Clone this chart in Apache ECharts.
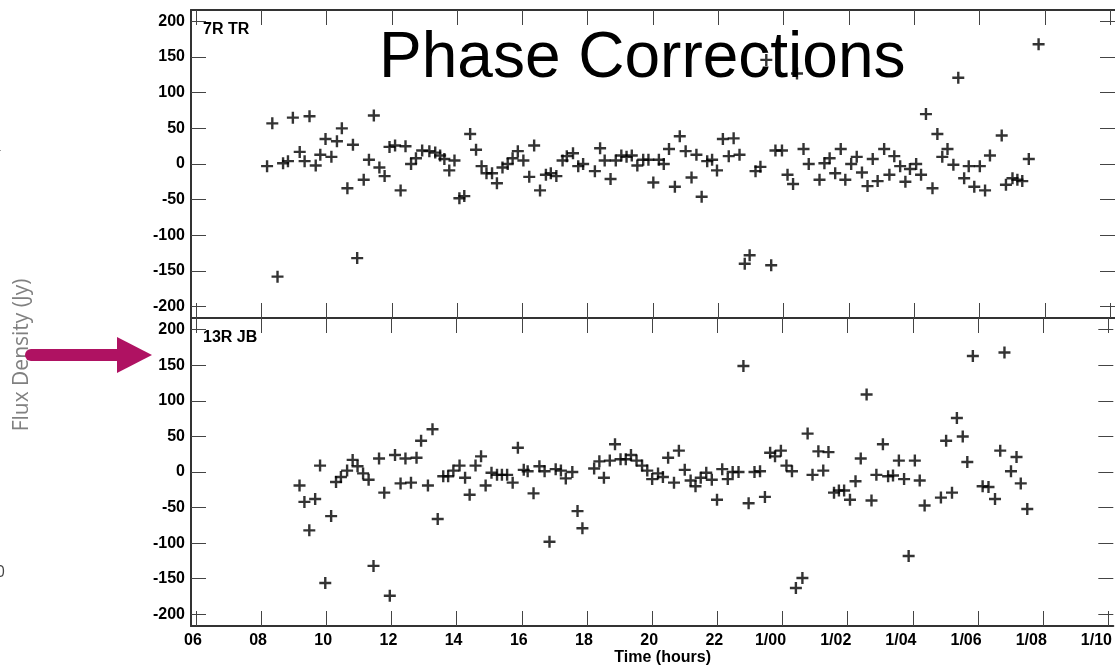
<!DOCTYPE html>
<html>
<head>
<meta charset="utf-8">
<script src="https://cdn.jsdelivr.net/npm/echarts@6/dist/echarts.min.js"></script>
<style>
  html, body { margin: 0; padding: 0; background: #fff; }
  #chart { width: 1115px; height: 667px; }
</style>
</head>
<body>
<div id="chart"></div>
<script>
// Tick positions and labels (hours from 06 to 1/10 of the next day)
const hourTicks = [6, 8, 10, 12, 14, 16, 18, 20, 22, 24, 26, 28, 30, 32, 34];
const hourTickLabels = ['06', '08', '10', '12', '14', '16', '18', '20', '22', '1/00', '1/02', '1/04', '1/06', '1/08', '1/10'];
const fluxTicks = [-200, -150, -100, -50, 0, 50, 100, 150, 200];

// Baseline 7R TR
const tr7Hours = [8.18, 8.34, 8.50, 8.67, 8.82, 8.97, 9.18, 9.33, 9.48, 9.67, 9.81, 9.97, 10.15, 10.32, 10.47, 10.64, 10.81, 10.94,
  11.14, 11.30, 11.45, 11.62, 11.78, 11.93, 12.10, 12.27, 12.42, 12.59, 12.74, 12.93, 13.15, 13.33, 13.48, 13.61, 13.76, 13.92,
  14.07, 14.22, 14.40, 14.58, 14.75, 14.90, 15.07, 15.22, 15.39, 15.55, 15.70, 15.86, 16.03, 16.21, 16.36, 16.54, 16.72, 16.87,
  17.04, 17.23, 17.36, 17.55, 17.71, 17.86, 18.22, 18.38, 18.52, 18.70, 18.86, 19.03, 19.19, 19.35, 19.52, 19.70, 19.86, 20.01,
  20.18, 20.33, 20.49, 20.67, 20.82, 21.00, 21.18, 21.33, 21.49, 21.66, 21.81, 21.96, 22.14, 22.32, 22.47, 22.65, 22.81, 22.96,
  23.14, 23.29, 23.47, 23.62, 23.75, 23.95, 24.12, 24.29, 24.41, 24.61, 24.77, 25.10, 25.25, 25.41, 25.58, 25.75, 25.89, 26.07,
  26.24, 26.40, 26.57, 26.73, 26.88, 27.08, 27.24, 27.39, 27.57, 27.73, 27.87, 28.06, 28.21, 28.36, 28.56, 28.71, 28.86, 29.02,
  29.20, 29.35, 29.53, 29.67, 29.84, 30.01, 30.17, 30.32, 30.68, 30.81, 31.01, 31.16, 31.31, 31.51, 31.81];
const tr7Flux = [-3, 57, -158, 1, 4, 65, 17, 4, 67, -2, 13, 35, 10, 32, 50, -34, 27, -132,
  -22, 6, 68, -5, -17, 24, 26, -37, 25, 0, 8, 19, 18, 16, 12, 7, -9, 5,
  -48, -45, 42, 20, -3, -13, -13, -27, -5, 0, 8, 18, 5, -18, 26, -37, -15, -13,
  -17, 5, 11, 15, -3, 0, -10, 22, 5, -21, 5, 12, 10, 12, -2, 6, 6, -26,
  6, 0, 21, -32, 39, 18, -19, 13, -46, 4, 6, -9, 35, 11, 36, 13, -140, -128,
  -10, -4, 146, -142, 19, 19, -15, -28, 127, 21, 0, -22, 1, 8, -13, 21, -22, 0,
  10, -12, -31, 7, -24, 21, -15, 11, -3, -25, -7, 0, -15, 70, -34, 42, 10, 21,
  -1, 121, -20, -3, -32, -3, -37, 12, 40, -29, -20, -22, -24, 7, 168];

// Baseline 13R JB
const jb13Hours = [9.18, 9.33, 9.48, 9.66, 9.81, 9.97, 10.15, 10.30, 10.45, 10.64, 10.81, 10.96, 11.13, 11.30, 11.45, 11.62, 11.78,
  11.95, 12.11, 12.28, 12.43, 12.60, 12.77, 12.91, 13.12, 13.26, 13.42, 13.59, 13.74, 13.90, 14.09, 14.26, 14.40, 14.58, 14.75,
  14.89, 15.07, 15.24, 15.39, 15.55, 15.72, 15.88, 16.06, 16.18, 16.36, 16.54, 16.70, 16.85, 17.04, 17.20, 17.35, 17.55, 17.71,
  17.86, 18.22, 18.38, 18.52, 18.70, 18.86, 19.03, 19.19, 19.35, 19.52, 19.69, 19.85, 20.00, 20.18, 20.33, 20.49, 20.67, 20.82,
  21.00, 21.18, 21.33, 21.49, 21.66, 21.83, 21.99, 22.15, 22.32, 22.47, 22.65, 22.80, 22.96, 23.14, 23.31, 23.46, 23.62, 23.77,
  23.95, 24.12, 24.29, 24.41, 24.61, 24.77, 24.92, 25.10, 25.25, 25.41, 25.58, 25.73, 25.89, 26.07, 26.24, 26.40, 26.58, 26.73,
  26.88, 27.08, 27.24, 27.39, 27.57, 27.73, 27.87, 28.06, 28.21, 28.36, 28.86, 29.02, 29.20, 29.35, 29.53, 29.67, 29.84, 30.14,
  30.32, 30.52, 30.68, 30.81, 31.01, 31.18, 31.31, 31.51];
const jb13Flux = [-19, -42, -82, -38, 9, -156, -62, -14, -7, 2, 17, 8, -2, -11, -132, 19, -29,
  -174, 24, -16, 19, -15, 20, 44, -19, 60, -66, -6, -6, 2, 9, -8, -32, 9, 22,
  -19, -1, -4, -4, -4, -15, 34, 3, 1, -30, 8, 1, -98, 4, 2, -9, 0, -55,
  -79, 5, 15, -8, 16, 39, 18, 18, 24, 16, 9, 2, -10, -2, -7, 20, -15, 30,
  3, -12, -20, -8, -1, -11, -39, 4, -10, 0, 0, 149, -44, 0, 1, -35, 27, 22,
  30, 9, 1, -163, -149, 54, -4, 29, 2, 28, -29, -26, -26, -39, -13, 19, 109, -40,
  -4, 39, -6, -5, 16, -10, -118, 16, -12, -47, -36, 44, -29, 76, 50, 14, 163, -20,
  -21, -38, 30, 168, 1, 21, -16, -52];

const pairs = (xs, ys) => xs.map((x, i) => [x, ys[i]]);

const FONT = '"Liberation Sans", Arial, Helvetica, sans-serif';
// filled "+" marker
const PLUS = 'path://M4.8,0H7.2V4.8H12V7.2H7.2V12H4.8V7.2H0V4.8H4.8Z';
const X_MIN = 5.85, X_MAX = 34.15;
const FRAME = { show: true, onZero: false, lineStyle: { color: '#333', width: 2 } };
const TICK = { show: true, inside: true, length: 15, lineStyle: { color: '#444', width: 1 } };

function hourLabel(v) {
  const s = hourTickLabels[hourTicks.indexOf(Math.round(v))];
  return s.indexOf('/') >= 0 ? '{w|' + s + '}' : '{n|' + s + '}';
}

function xAxisFor(gridIndex, position, withLabels) {
  const ax = {
    type: 'value', gridIndex, position, min: X_MIN, max: X_MAX,
    axisLine: FRAME, splitLine: { show: false },
    axisTick: Object.assign({ customValues: hourTicks }, TICK),
    axisLabel: { show: false }
  };
  if (withLabels) {
    ax.axisLabel = {
      show: true, customValues: hourTicks, margin: 7,
      formatter: hourLabel,
      rich: {
        n: { fontFamily: FONT, fontWeight: 'bold', fontSize: 16, color: '#000', padding: [0, 6, 0, 0] },
        w: { fontFamily: FONT, fontWeight: 'bold', fontSize: 16, color: '#000', padding: [0, 24, 0, 0] }
      }
    };
    ax.name = 'Time (hours)';
    ax.nameLocation = 'middle';
    ax.nameGap = 24;
    ax.nameTextStyle = { fontFamily: FONT, fontWeight: 'bold', fontSize: 16, color: '#000', padding: [0, 0, 0, 21] };
  }
  return ax;
}

function yAxisFor(gridIndex, position, withLabels, lim) {
  return {
    type: 'value', gridIndex, position, min: -lim, max: lim,
    axisLine: position === 'left' ? FRAME : { show: false, onZero: false },
    splitLine: { show: false },
    axisTick: Object.assign({ customValues: fluxTicks }, TICK),
    axisLabel: withLabels
      ? { show: true, customValues: fluxTicks, margin: 6, fontFamily: FONT, fontWeight: 'bold', fontSize: 16, color: '#000' }
      : { show: false }
  };
}

const chart = echarts.init(document.getElementById('chart'), null, { renderer: 'canvas' });

chart.setOption({
  animation: false,
  backgroundColor: '#fff',
  title: [
    { text: 'Phase Corrections', left: 379, top: 27, padding: 0,
      textStyle: { fontFamily: FONT, fontWeight: 'normal', fontSize: 64, color: '#000' } },
    { text: '7R TR', left: 203, top: 22, padding: 0,
      textStyle: { fontFamily: FONT, fontWeight: 'bold', fontSize: 16, color: '#000' } },
    { text: '13R JB', left: 203, top: 330, padding: 0,
      textStyle: { fontFamily: FONT, fontWeight: 'bold', fontSize: 16, color: '#000' } }
  ],
  grid: [
    { left: 191, top: 10, width: 926, height: 308 },
    { left: 191, top: 318, width: 926, height: 309 }
  ],
  xAxis: [
    xAxisFor(0, 'bottom', false),
    xAxisFor(0, 'top', false),
    xAxisFor(1, 'bottom', true),
    xAxisFor(1, 'top', false)
  ],
  yAxis: [
    yAxisFor(0, 'left', true, 216),
    yAxisFor(0, 'right', false, 216),
    yAxisFor(1, 'left', true, 216.5),
    yAxisFor(1, 'right', false, 216.5)
  ],
  series: [
    { name: '7R TR', type: 'scatter', xAxisIndex: 0, yAxisIndex: 0, data: pairs(tr7Hours, tr7Flux),
      symbol: PLUS, symbolSize: 12, itemStyle: { color: '#000' }, z: 5 },
    { name: '13R JB', type: 'scatter', xAxisIndex: 2, yAxisIndex: 2, data: pairs(jb13Hours, jb13Flux),
      symbol: PLUS, symbolSize: 12, itemStyle: { color: '#000' }, z: 5 }
  ],
  graphic: [
    { type: 'text', x: 22, y: 355, rotation: Math.PI / 2,
      style: { text: 'Flux Density (Jy)', fill: '#808080', font: '21px "Open Sans", "Noto Sans", sans-serif',
        textAlign: 'center', textVerticalAlign: 'middle' } },
    { type: 'text', x: 3, y: 147,
      style: { text: '1', fill: '#444', font: '16px "DejaVu Serif", serif', textAlign: 'right', textVerticalAlign: 'middle' } },
    { type: 'text', x: 5, y: 572,
      style: { text: '0', fill: '#444', font: '16px "Open Sans", sans-serif', textAlign: 'right', textVerticalAlign: 'middle' } },
    { type: 'line', shape: { x1: 31, y1: 355, x2: 120, y2: 355 },
      style: { stroke: '#AF1262', lineWidth: 12, lineCap: 'round' } },
    { type: 'polygon', shape: { points: [[117, 337], [152, 355], [117, 373]] },
      style: { fill: '#AF1262' } }
  ]
});
</script>
</body>
</html>
